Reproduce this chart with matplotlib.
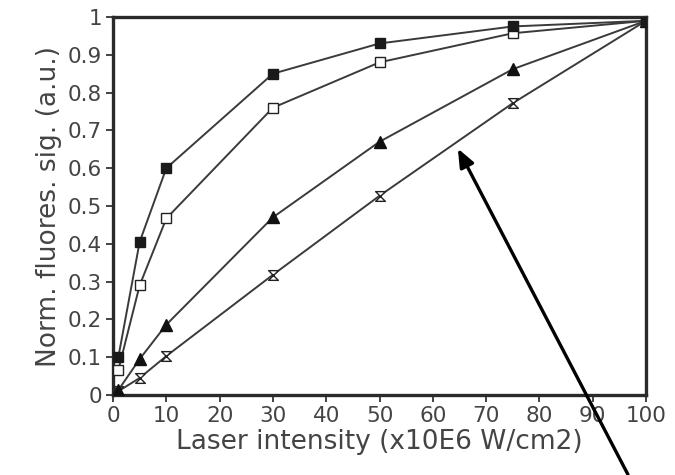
import matplotlib
matplotlib.use("Agg")
import matplotlib.pyplot as plt
from matplotlib.path import Path

intensity = [1, 5, 10, 30, 50, 75, 100]
series_filled_sq = [0.10, 0.405, 0.60, 0.85, 0.93, 0.975, 0.99]
series_open_sq = [0.066, 0.29, 0.467, 0.76, 0.88, 0.957, 0.99]
series_triangle = [0.013, 0.095, 0.186, 0.47, 0.67, 0.862, 0.99]
series_hourglass = [0.01, 0.045, 0.103, 0.318, 0.527, 0.772, 0.99]

xticks = list(range(0, 101, 10))
yticks = [0, 0.1, 0.2, 0.3, 0.4, 0.5, 0.6, 0.7, 0.8, 0.9, 1]
ytick_labels = ["0", "0.1", "0.2", "0.3", "0.4", "0.5", "0.6", "0.7", "0.8", "0.9", "1"]
xlabel = "Laser intensity (x10E6 W/cm2)"
ylabel = "Norm. fluores. sig. (a.u.)"
arrow_head = (64.7, 0.652)
arrow_tail = (96.6, -0.21)

plt.rcParams['font.family'] = ['DejaVu Sans']

fig = plt.figure(figsize=(6.75, 4.75), dpi=100)
ax = fig.add_axes([113/675, 1-395/475, (646-113)/675, (395-17)/475])

hourglass = Path([(-1, 1), (1, 1), (-1, -1), (1, -1), (-1, 1)],
                 [Path.MOVETO, Path.LINETO, Path.LINETO, Path.LINETO, Path.CLOSEPOLY])

lc = '#3a3a3a'
lw = 1.4
ax.plot(intensity, series_hourglass, color=lc, lw=lw, marker=hourglass, ms=7,
        mfc='white', mec='#222222', mew=1.0, zorder=3)
ax.plot(intensity, series_triangle, color=lc, lw=lw, marker='^', ms=9,
        mfc='#111111', mec='#111111', zorder=3)
ax.plot(intensity, series_open_sq, color=lc, lw=lw, marker='s', ms=7,
        mfc='white', mec='#222222', mew=1.0, zorder=4)
ax.plot(intensity, series_filled_sq, color=lc, lw=lw, marker='s', ms=7,
        mfc='#1a1a1a', mec='#1a1a1a', zorder=4)

ax.set_xlim(0, 100)
ax.set_ylim(0, 1)
ax.set_xticks(xticks)
ax.set_yticks(yticks)
ax.set_yticklabels(ytick_labels)
ax.tick_params(direction='out', length=5, width=1.2, labelsize=15.5, colors='#222222',
               labelcolor='#444444', pad=3)
for s in ax.spines.values():
    s.set_linewidth(2.4)
    s.set_color('#2a2a2a')
ax.set_xlabel(xlabel, fontsize=19, color='#444444', labelpad=2)
ax.set_ylabel(ylabel, fontsize=19, color='#444444', labelpad=4)

ax.annotate('', xy=arrow_head, xytext=arrow_tail, xycoords='data', textcoords='data',
            annotation_clip=False,
            arrowprops=dict(arrowstyle='-|>,head_length=1.1,head_width=0.45',
                            color='black', lw=2.4, shrinkA=0, shrinkB=0))

fig.savefig('out.png', dpi=100)
